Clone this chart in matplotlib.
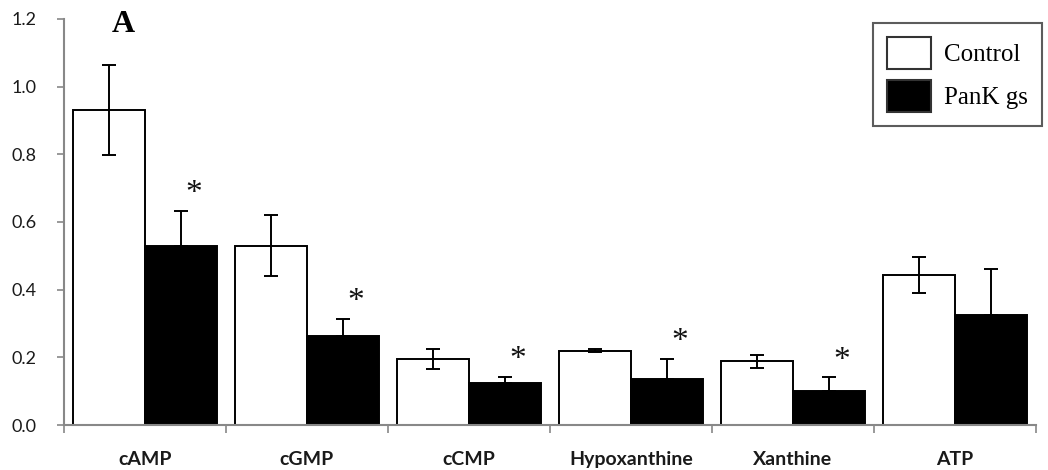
import numpy as np
import matplotlib
matplotlib.use("Agg")
import matplotlib.pyplot as plt
from matplotlib.patches import Patch

# metabolite levels, control vs PanK knockdown
categories = ["cAMP", "cGMP", "cCMP", "Hypoxanthine", "Xanthine", "ATP"]
control = [0.93, 0.53, 0.195, 0.22, 0.188, 0.443]
control_err = [0.133, 0.09, 0.03, 0.005, 0.02, 0.054]
pank = [0.528, 0.262, 0.125, 0.137, 0.10, 0.326]
pank_err = [0.105, 0.052, 0.017, 0.058, 0.041, 0.135]
significant = [True, True, True, True, True, False]

fig = plt.figure(figsize=(10.48, 4.70), dpi=100)
ax = fig.add_axes([64 / 1048, 1 - 425 / 470, (1036 - 64) / 1048, (425 - 19) / 470])

x = np.arange(len(categories))
w = 0.447
lw = 1.4
ax.bar(x - w / 2, control, w, color="white", edgecolor="black", linewidth=lw)
ax.bar(x + w / 2, pank, w, color="black", edgecolor="black", linewidth=lw)
ax.errorbar(x - w / 2, control, yerr=control_err, fmt="none", ecolor="black",
            elinewidth=1.4, capsize=5, capthick=1.4)
ax.errorbar(x + w / 2, pank, yerr=[np.zeros(len(pank)), pank_err], fmt="none",
            ecolor="black", elinewidth=1.4, capsize=5, capthick=1.4)

# significance stars above the knockdown bars
for i, sig in enumerate(significant):
    if sig:
        ax.text(x[i] + w / 2 + 0.08, pank[i] + pank_err[i] + 0.05, "*",
                ha="center", va="center", fontsize=24, color="#111111",
                family="Liberation Serif")

ax.set_xlim(-0.5, len(categories) - 0.5)
ax.set_ylim(0, 1.2)
ax.set_yticks(np.arange(0, 1.21, 0.2))
ax.set_yticklabels(["%.1f" % v for v in np.arange(0, 1.21, 0.2)],
                   family="Lato", fontsize=13, color="#1a1a1a")
ax.set_xticks(x)
ax.set_xticklabels(categories, family="Lato", fontweight="bold", fontsize=14,
                   color="#1a1a1a")
ax.set_xticks(np.arange(-0.5, len(categories)), minor=True)
ax.tick_params(axis="x", which="major", length=0, pad=19)
ax.tick_params(axis="x", which="minor", length=6, width=1.2, color="#888888")
ax.tick_params(axis="y", length=5, width=1.2, color="#888888", pad=15)

for side in ["top", "right"]:
    ax.spines[side].set_visible(False)
for side in ["left", "bottom"]:
    ax.spines[side].set_color("#888888")
    ax.spines[side].set_linewidth(1.5)

fig.text(123 / 1048, 1 - 24 / 470, "A", ha="center", va="center",
         family="Liberation Serif", fontweight="bold", fontsize=23)

handles = [Patch(facecolor="white", edgecolor="#333333", linewidth=1.5),
           Patch(facecolor="black", edgecolor="#333333", linewidth=1.5)]
leg = fig.legend(handles, ["Control", "PanK gs"], loc="upper right",
                 bbox_to_anchor=(1042 / 1048, 1 - 23 / 470),
                 prop={"family": "Liberation Serif", "size": 18},
                 frameon=True, fancybox=False, edgecolor="#333333",
                 handlelength=1.75, handleheight=1.6, labelspacing=0.45,
                 handletextpad=0.55, borderpad=0.55, borderaxespad=0)
leg.get_frame().set_linewidth(1.5)

fig.savefig("out.png", dpi=100)
